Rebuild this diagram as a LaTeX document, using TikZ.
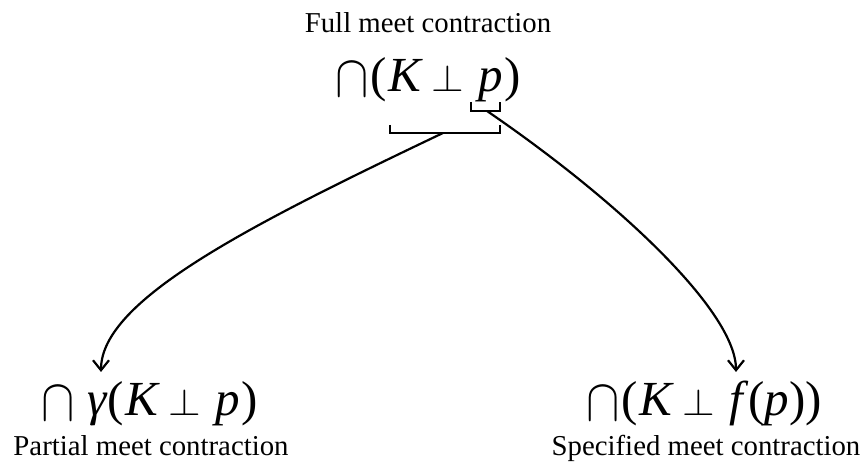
\documentclass[tikz,border=0pt]{standalone}
\usepackage{fontspec}
\setmainfont{Liberation Serif}
\usepackage{graphicx}
\usetikzlibrary{arrows.meta}
\newcommand{\mycap}{\raisebox{-2.5pt}{\fontsize{10}{12}\selectfont\scalebox{2.5}[3.0]{$\cap$}}}
\newcommand{\myperp}{{\fontsize{10}{12}\selectfont\scalebox{2.1}[1.9]{$\perp$}}}
\tikzset{
 lbl/.style={font=\fontsize{14.4}{17}\selectfont, anchor=base, inner sep=0pt},
 formula/.style={font=\fontsize{24.5}{29}\selectfont, anchor=base, inner sep=0pt},
 brk/.style={line width=1.2pt},
 conn/.style={line width=1.1pt, -{Straight Barb[length=5pt,width=8pt]}}
}
\begin{document}
\begin{tikzpicture}[x=0.5pt,y=-0.5pt]
\useasboundingbox (0,0) rectangle (864,464);
\node[lbl] (tl) at (428,33) {Full meet contraction};
\node[formula] (tf) at (428,92) {\mycap\kern1pt(\kern1pt\textit{K}\kern4pt\myperp\kern7pt\textit{p}\kern1pt)};
\node[formula] (bf1) at (150,416) {\mycap\kern6pt\textit{γ}(\kern1pt\textit{K}\kern4pt\myperp\kern7pt\textit{p}\kern1pt)};
\node[formula] (bf2) at (704,416) {\mycap\kern1pt(\kern1pt\textit{K}\kern4pt\myperp\kern7pt\textit{f}(\textit{p}))};
\node[lbl] (bl1) at (151,456) {Partial meet contraction};
\node[lbl] (bl2) at (706,456) {Specified meet contraction};
\draw[brk] (390,125) -- (390,133) -- (500,133) -- (500,125);
\draw[brk] (471,102) -- (471,111) -- (500,111) -- (500,102);
\coordinate (s1) at (443,133);
\coordinate (s2) at (487,111);
\coordinate (e1) at (101,372);
\coordinate (e2) at (736,372);
\draw[conn] (s1) .. controls (250,225) and (101,300) .. (e1);
\draw[conn] (s2) .. controls (620,202) and (736,312) .. (e2);
\end{tikzpicture}
\end{document}
